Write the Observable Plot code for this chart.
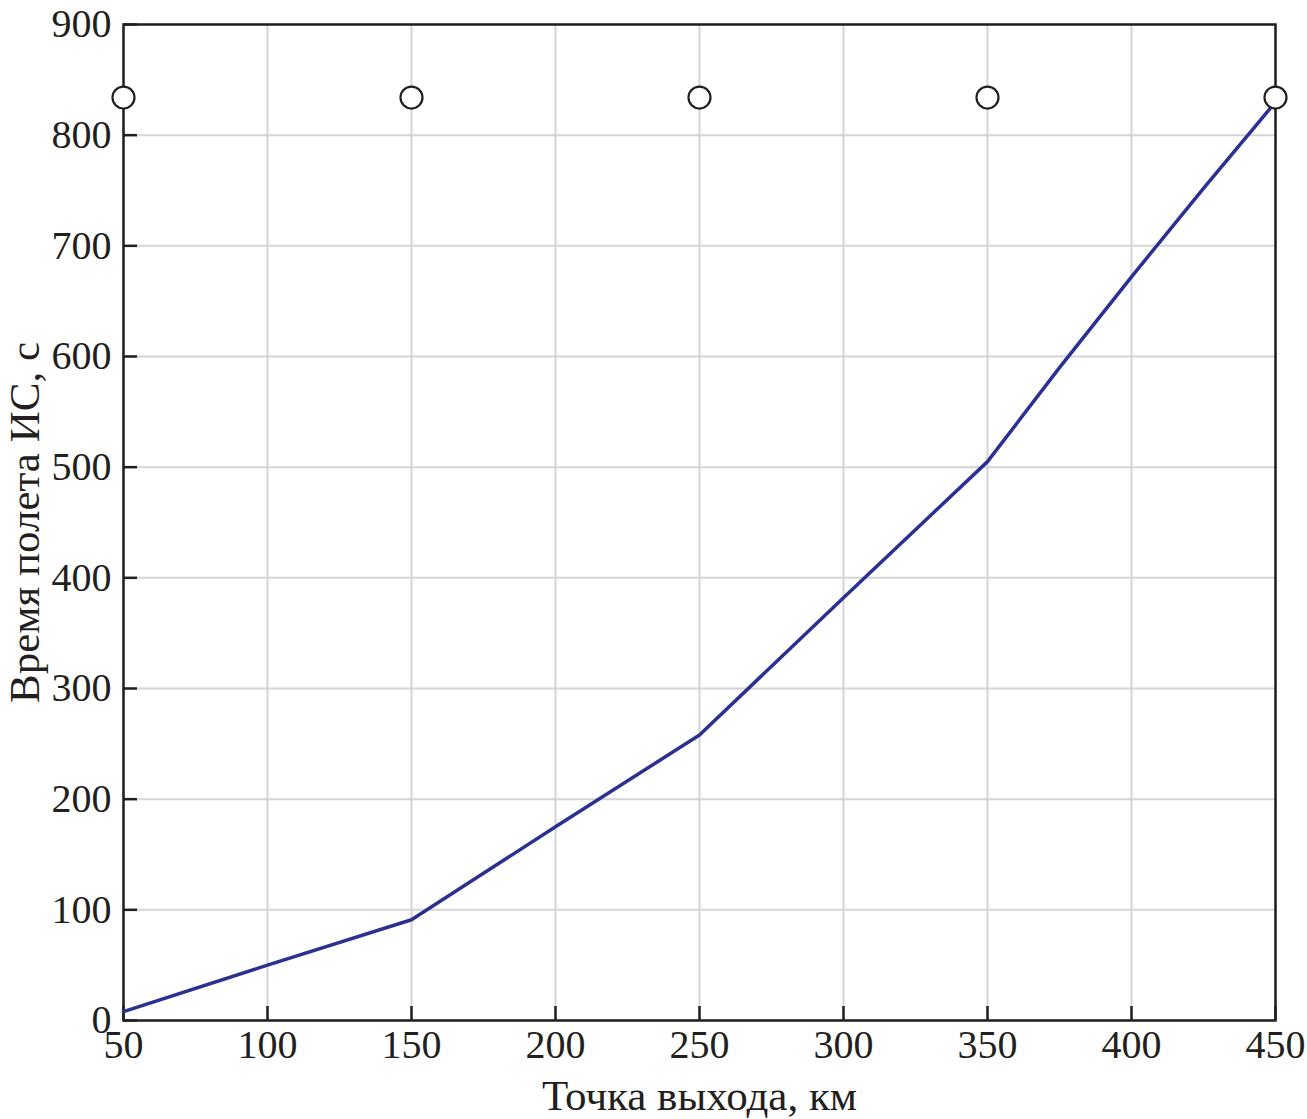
<!DOCTYPE html>
<html>
<head>
<meta charset="utf-8">
<script src="https://cdn.jsdelivr.net/npm/d3@7"></script>
<script src="https://cdn.jsdelivr.net/npm/@observablehq/plot@0.6"></script>
<style>
  html, body { margin: 0; padding: 0; background: #fff; }
</style>
</head>
<body>
<div id="chart"></div>
<script>
// Data
const distanceKm = [50, 100, 150, 200, 250, 300, 350, 375, 400, 425, 450];
const flightTime = [8, 50, 91, 175, 258, 382, 505, 590, 672, 752, 830];
const markerKm = [50, 150, 250, 350, 450];
const markerTime = [834, 834, 834, 834, 834];
const xTicks = [50, 100, 150, 200, 250, 300, 350, 400, 450];
const yTicks = [0, 100, 200, 300, 400, 500, 600, 700, 800, 900];
const xLabel = "Точка выхода, км";
const yLabel = "Время полета ИС, с";

const lineData = distanceKm.map((x, i) => ({x, y: flightTime[i]}));
const markerData = markerKm.map((x, i) => ({x, y: markerTime[i]}));

const ink = "#231f20";
const chart = Plot.plot({
  width: 1307,
  height: 1119,
  marginLeft: 123,
  marginRight: 32,
  marginTop: 24,
  marginBottom: 99,
  style: {fontFamily: "'Liberation Serif', 'Times New Roman', serif", fontSize: "40px", color: ink, background: "#fff"},
  x: {domain: [50, 450]},
  y: {domain: [0, 900]},
  marks: [
    Plot.gridX(xTicks, {stroke: "#d4d4d4", strokeOpacity: 1, strokeWidth: 2}),
    Plot.gridY(yTicks, {stroke: "#d4d4d4", strokeOpacity: 1, strokeWidth: 2}),
    // inward tick marks
    Plot.axisX(xTicks, {tickSize: 14, dy: -14, tickFormat: () => "", label: null, stroke: ink, strokeWidth: 2.5}),
    Plot.axisY(yTicks, {tickSize: 14, dx: 14, tickFormat: () => "", label: null, stroke: ink, strokeWidth: 2.5}),
    // tick labels
    Plot.axisX(xTicks, {tickSize: 0, tickPadding: 9, fontSize: 40, label: null}),
    Plot.axisY(yTicks, {tickSize: 0, tickPadding: 12, fontSize: 40, label: null}),
    Plot.text([xLabel], {frameAnchor: "bottom", textAnchor: "middle", lineAnchor: "bottom", dy: 89, fontSize: 43, fill: ink}),
    Plot.text([yLabel], {frameAnchor: "left", textAnchor: "middle", lineAnchor: "bottom", rotate: -90, dx: -85, fontSize: 43, fill: ink}),
    Plot.frame({stroke: ink, strokeWidth: 2.5}),
    Plot.line(lineData, {x: "x", y: "y", stroke: "#2b3190", strokeWidth: 3.5}),
    Plot.dot(markerData, {x: "x", y: "y", r: 11, fill: "#fff", stroke: ink, strokeWidth: 2.2})
  ]
});
document.getElementById("chart").appendChild(chart);
</script>
</body>
</html>
